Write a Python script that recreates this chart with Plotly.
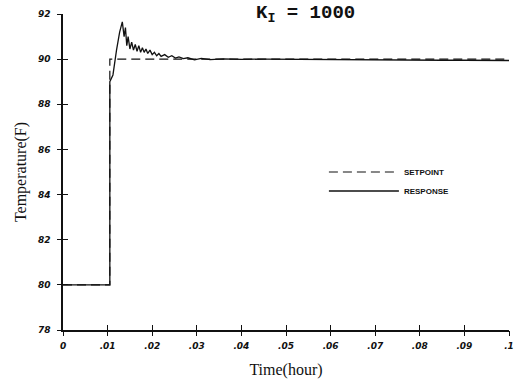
import plotly.graph_objects as go

# Setpoint series
sp_t = [0.0, 0.0105, 0.0105, 0.1]
sp_v = [80.0, 80.0, 90.0, 90.0]

# Response series
rs_t = [0.0, 0.0105, 0.0105, 0.0112, 0.0120, 0.0127, 0.0133, 0.0137, 0.0140, 0.0143,
        0.0146, 0.0150, 0.0154, 0.0158, 0.0162, 0.0166, 0.0170, 0.0174, 0.0178, 0.0182,
        0.0186, 0.0190, 0.0195, 0.0200, 0.0205, 0.0210, 0.0215, 0.0220, 0.0228, 0.0236,
        0.0244, 0.0252, 0.0260, 0.0270, 0.0280, 0.0295, 0.0310, 0.0330, 0.0360, 0.0400,
        0.0450, 0.0500, 0.0550, 0.0600, 0.0650, 0.0700, 0.0750, 0.0800, 0.0850, 0.0900,
        0.0950, 0.1000]
rs_v = [80.0, 80.0, 89.0, 89.3, 90.4, 91.2, 91.65, 91.0, 91.4, 90.6,
        91.0, 90.45, 90.75, 90.4, 90.65, 90.35, 90.6, 90.3, 90.5, 90.3,
        90.45, 90.25, 90.4, 90.2, 90.3, 90.15, 90.25, 90.12, 90.2, 90.08,
        90.15, 90.05, 90.1, 90.02, 90.06, 89.97, 90.03, 89.98, 90.01, 89.99,
        90.0, 89.99, 90.0, 89.98, 89.99, 89.98, 89.97, 89.96, 89.95, 89.95,
        89.96, 89.94]

x_ticks = [0, 0.01, 0.02, 0.03, 0.04, 0.05, 0.06, 0.07, 0.08, 0.09, 0.1]
x_tick_text = ["0", ".01", ".02", ".03", ".04", ".05", ".06", ".07", ".08", ".09", ".1"]
y_ticks = [78, 80, 82, 84, 86, 88, 90, 92]
y_tick_text = ["78", "80", "82", "84", "86", "88", "90", "92"]

ink = "#111111"
tickfont = dict(family="DejaVu Sans", size=9, color=ink, style="italic", weight="bold")

fig = go.Figure()
# setpoint drawn on overlay axes (same ranges) that carry the outside half of each tick
fig.add_trace(go.Scatter(x=sp_t, y=sp_v, mode="lines", name="SETPOINT", xaxis="x2", yaxis="y2",
                         line=dict(color=ink, width=1.2, dash="9px,5px")))
fig.add_trace(go.Scatter(x=rs_t, y=rs_v, mode="lines", name="RESPONSE",
                         line=dict(color=ink, width=1.3)))

fig.update_layout(
    width=526, height=381,
    margin=dict(l=63, r=17, t=14, b=51),
    paper_bgcolor="white", plot_bgcolor="white",
    showlegend=True,
    legend=dict(x=0.585, y=0.47, xanchor="left", yanchor="middle", traceorder="normal",
                font=dict(family="Liberation Sans Narrow, Liberation Sans", size=8, color=ink, weight="bold"),
                bgcolor="rgba(0,0,0,0)", tracegroupgap=0, itemwidth=70),
    xaxis=dict(range=[0, 0.1], tickvals=x_ticks, ticktext=x_tick_text, automargin=False,
               showgrid=False, zeroline=False, showline=True, linecolor=ink, linewidth=1.5,
               ticks="inside", ticklen=5, tickwidth=1.3, tickcolor=ink, tickfont=tickfont,
               ticklabelstandoff=6,
               title=dict(text="Time(hour)", font=dict(family="Liberation Serif", size=16, color=ink),
                          standoff=14)),
    yaxis=dict(range=[78, 92], tickvals=y_ticks, ticktext=y_tick_text, automargin=False,
               showgrid=False, zeroline=False, showline=True, linecolor=ink, linewidth=1.5,
               ticks="inside", ticklen=5, tickwidth=1.3, tickcolor=ink, tickfont=tickfont,
               ticklabelstandoff=9,
               title=dict(text="Temperature(F)", font=dict(family="Liberation Serif", size=16, color=ink),
                          standoff=7)),
    xaxis2=dict(range=[0, 0.1], tickvals=x_ticks, overlaying="x", anchor="y2", side="bottom",
                showticklabels=False, showline=False, automargin=False,
                showgrid=False, zeroline=False, ticks="outside", ticklen=5, tickwidth=1.3, tickcolor=ink),
    yaxis2=dict(range=[78, 92], tickvals=y_ticks, overlaying="y", anchor="x2", side="left",
                showticklabels=False, showline=False, automargin=False,
                showgrid=False, zeroline=False, ticks="outside", ticklen=5, tickwidth=1.3, tickcolor=ink),
    annotations=[dict(text="<b>K<sub>I</sub> = 1000</b>", xref="paper", yref="paper",
                      x=0.428, y=1.0, xanchor="left", yanchor="middle", showarrow=False,
                      font=dict(family="Liberation Mono", size=19, color=ink))],
)

fig.write_html("out.html")
